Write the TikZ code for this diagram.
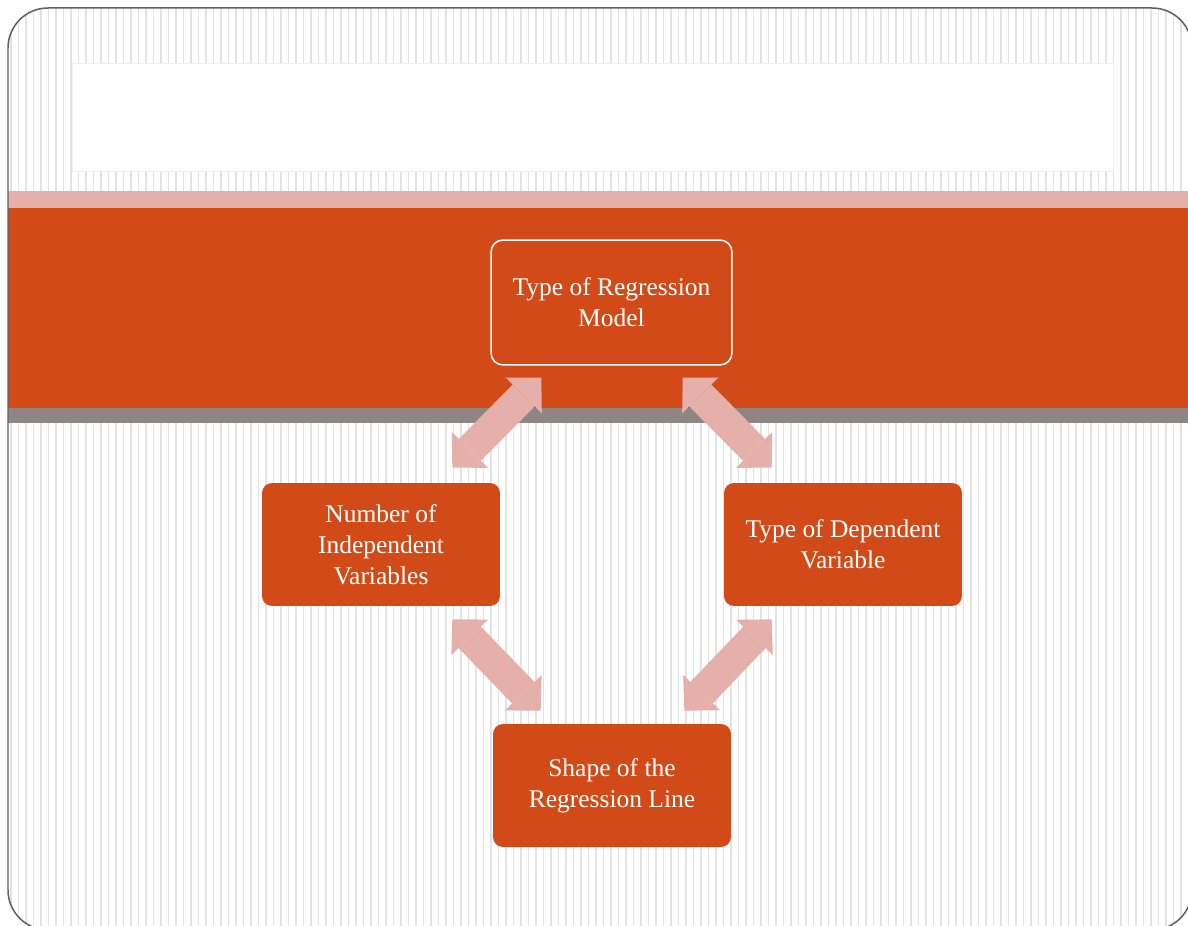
\documentclass[tikz,border=0pt]{standalone}
\usepackage{fontspec}
\setmainfont{Liberation Serif}
\usetikzlibrary{arrows.meta}

\definecolor{regorange}{RGB}{209,74,23}
\definecolor{regpink}{RGB}{230,176,170}
\definecolor{reggray}{RGB}{143,133,133}
\definecolor{stripedark}{RGB}{226,226,226}

\tikzset{
  box/.style={rectangle, rounded corners=0.2cm, fill=regorange, text=white, align=center,
    minimum width=4.76cm, minimum height=2.46cm, font=\fontsize{14.5}{17.6}\selectfont},
  link/.style={draw=regpink, line width=0.62cm,
    {Triangle[length=0.5cm,width=1.02cm,line width=0pt]}-{Triangle[length=0.5cm,width=1.02cm,line width=0pt]}},
}

\begin{document}
\begin{tikzpicture}[x=0.02cm, y=-0.02cm]
			\useasboundingbox (0,0) rectangle (1188,926);

			% Slide background
			\begin{scope}
				\clip[rounded corners=0.8cm] (8,8) rectangle (1192,930);
				\fill[white] (8,8) rectangle (1192,930);
				\foreach \x in {11,18.5,...,1190}
					\draw[stripedark, line width=0.03cm] (\x,8) -- (\x,930);
				\fill[white] (72,63) rectangle (1113,171);
				\draw[gray!12] (72,63) rectangle (1113,171);
				\fill[regpink] (8,191) rectangle (1192,208);
				\fill[regorange] (8,208) rectangle (1192,408);
				\fill[reggray] (8,408) rectangle (1192,423);
			\end{scope}
			\draw[gray!75!black, line width=0.03cm, rounded corners=0.8cm] (8,8) rectangle (1192,930);

			% Nodes
			\node[box, draw=white, line width=0.03cm, rounded corners=0.24cm, minimum width=4.82cm, minimum height=2.5cm] (top) at (611.5,302.5) {Type of Regression\\Model};
			\node[box] (left) at (381,544.5) {Number of\\Independent\\Variables};
			\node[box] (right) at (843,544.5) {Type of Dependent\\Variable};
			\node[box] (bottom) at (612,785.5) {Shape of the\\Regression Line};

			% Links
			\draw[link] ([shift={(51,12)}]top.south west) -- ([shift={(-48,-15)}]left.north east);
			\draw[link] ([shift={(-50,12)}]top.south east) -- ([shift={(48,-15)}]right.north west);
			\draw[link] ([shift={(-48,13)}]left.south east) -- ([shift={(48,-13)}]bottom.north west);
			\draw[link] ([shift={(48,13)}]right.south west) -- ([shift={(-47,-13)}]bottom.north east);
		\end{tikzpicture}
\end{document}
